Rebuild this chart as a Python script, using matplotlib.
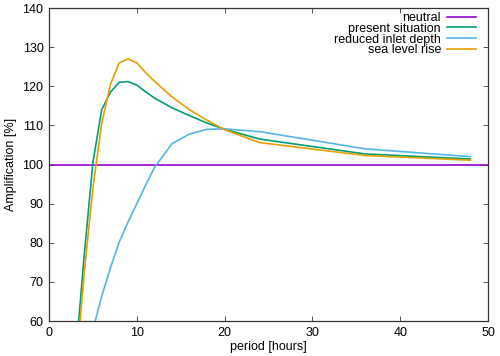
import matplotlib
matplotlib.use("Agg")
import matplotlib.pyplot as plt

plt.rcParams['font.family'] = ['Liberation Sans', 'DejaVu Sans']

# Data
neutral_period = [0, 50]
neutral_amp = [100, 100]

period = [3, 4, 5, 6, 7, 8, 9, 10, 11, 12, 14, 16, 18, 20, 24, 36, 48]
present = [50.0, 76.5, 100.5, 114.0, 118.5, 121.0, 121.2, 120.3, 118.6, 117.0,
           114.5, 112.5, 110.6, 109.0, 106.5, 102.7, 101.4]
sea_level = [46.0, 72.0, 94.0, 110.5, 120.5, 126.0, 127.0, 126.0, 123.5, 121.3,
             117.3, 114.0, 111.3, 108.9, 105.6, 102.3, 101.1]

period_r = [4, 5, 6, 7, 8, 9, 10, 11, 12, 14, 16, 18, 20, 24, 36, 48]
reduced = [46.0, 57.8, 66.3, 73.6, 80.2, 85.3, 90.0, 94.7, 99.2, 105.3,
           107.8, 109.0, 109.1, 108.4, 104.0, 102.0]

fig = plt.figure(figsize=(5.0, 3.56), dpi=100)
ax = fig.add_axes([0.098, 0.0983, 0.878, 0.8792])

lw = 1.2
ax.plot(neutral_period, neutral_amp, color='#9400d3', lw=lw, label='neutral')
ax.plot(period, present, color='#009e73', lw=lw, label='present situation')
ax.plot(period_r, reduced, color='#56b4e9', lw=lw, label='reduced inlet depth')
ax.plot(period, sea_level, color='#e69f00', lw=lw, label='sea level rise')

ax.set_xlim(0, 50)
ax.set_ylim(60, 140)
ax.set_xticks(range(0, 51, 10))
ax.set_yticks(range(60, 141, 10))
ax.tick_params(direction='in', length=3.5, width=0.6, top=True, right=True,
               labelsize=9, pad=4, colors='#333333', labelcolor='black')
for s in ax.spines.values():
    s.set_color('#333333')
    s.set_linewidth(0.9)

ax.set_xlabel('period [hours]', fontsize=9, labelpad=2)
ax.set_ylabel('Amplification [%]', fontsize=9, labelpad=4)

leg = ax.legend(loc='upper right', frameon=False, markerfirst=False, fontsize=9,
                labelspacing=-0.1, handlelength=2.3, handletextpad=0.5,
                borderaxespad=0.0, borderpad=0.0,
                bbox_to_anchor=(476 / 500, 1 - 12 / 356),
                bbox_transform=fig.transFigure)

fig.savefig('out.png', dpi=100)
